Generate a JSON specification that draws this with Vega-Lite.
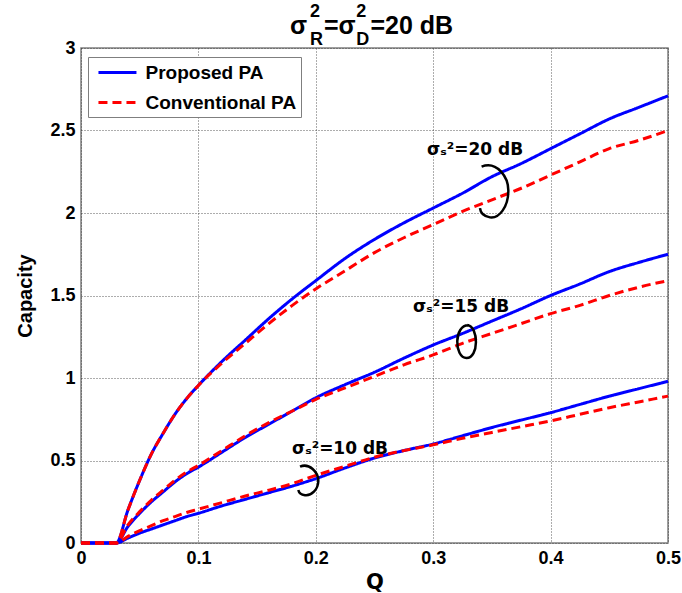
{
"$schema": "https://vega.github.io/schema/vega-lite/v6.json",
"width": 587, "height": 495,
"autosize": {"type": "none"},
"padding": {"left": 81, "top": 48, "right": 14, "bottom": 50},
"background": "white",
"config": {
 "view": {"stroke": "#7f7f7f", "strokeWidth": 1.5},
 "axis": {"labelFont": "Liberation Sans", "labelFontWeight": "bold", "labelFontSize": 18, "labelColor": "black", "titleFont": "Liberation Sans", "titleFontWeight": "bold", "titleColor": "black", "grid": true, "gridColor": "#333333", "gridDash": [1, 2], "gridWidth": 1, "gridOpacity": 0.8, "domain": false, "ticks": false, "labelPadding": 6, "labelFlush": false},
 "legend": {"title": null, "orient": "none", "legendX": 7, "legendY": 9, "strokeColor": "#7f7f7f", "fillColor": "white", "padding": 4.5, "rowPadding": 9, "labelFont": "Liberation Sans", "labelFontWeight": "bold", "labelFontSize": 19, "labelColor": "black", "symbolType": "M -0.53,0 L 3.47,0", "symbolSize": 361, "symbolStrokeWidth": 3, "labelOffset": 31, "labelLimit": 400}
},
"datasets": {
 "curves": [
  {"Q":0,"C":0,"s":"Proposed PA","snr":20},{"Q":0.03,"C":0,"s":"Proposed PA","snr":20},{"Q":0.04,"C":0.2,"s":"Proposed PA","snr":20},{"Q":0.05,"C":0.38,"s":"Proposed PA","snr":20},{"Q":0.06,"C":0.54,"s":"Proposed PA","snr":20},{"Q":0.07,"C":0.665,"s":"Proposed PA","snr":20},{"Q":0.08,"C":0.78,"s":"Proposed PA","snr":20},{"Q":0.09,"C":0.875,"s":"Proposed PA","snr":20},{"Q":0.1,"C":0.955,"s":"Proposed PA","snr":20},{"Q":0.12,"C":1.10,"s":"Proposed PA","snr":20},{"Q":0.14,"C":1.23,"s":"Proposed PA","snr":20},{"Q":0.16,"C":1.36,"s":"Proposed PA","snr":20},{"Q":0.18,"C":1.48,"s":"Proposed PA","snr":20},{"Q":0.2,"C":1.59,"s":"Proposed PA","snr":20},{"Q":0.225,"C":1.725,"s":"Proposed PA","snr":20},{"Q":0.25,"C":1.84,"s":"Proposed PA","snr":20},{"Q":0.275,"C":1.94,"s":"Proposed PA","snr":20},{"Q":0.3,"C":2.03,"s":"Proposed PA","snr":20},{"Q":0.325,"C":2.12,"s":"Proposed PA","snr":20},{"Q":0.35,"C":2.22,"s":"Proposed PA","snr":20},{"Q":0.375,"C":2.30,"s":"Proposed PA","snr":20},{"Q":0.4,"C":2.39,"s":"Proposed PA","snr":20},{"Q":0.425,"C":2.48,"s":"Proposed PA","snr":20},{"Q":0.45,"C":2.57,"s":"Proposed PA","snr":20},{"Q":0.475,"C":2.64,"s":"Proposed PA","snr":20},{"Q":0.5,"C":2.71,"s":"Proposed PA","snr":20},
  {"Q":0,"C":0,"s":"Conventional PA","snr":20},{"Q":0.03,"C":0,"s":"Conventional PA","snr":20},{"Q":0.04,"C":0.2,"s":"Conventional PA","snr":20},{"Q":0.05,"C":0.38,"s":"Conventional PA","snr":20},{"Q":0.06,"C":0.54,"s":"Conventional PA","snr":20},{"Q":0.07,"C":0.665,"s":"Conventional PA","snr":20},{"Q":0.08,"C":0.78,"s":"Conventional PA","snr":20},{"Q":0.09,"C":0.875,"s":"Conventional PA","snr":20},{"Q":0.1,"C":0.955,"s":"Conventional PA","snr":20},{"Q":0.12,"C":1.09,"s":"Conventional PA","snr":20},{"Q":0.14,"C":1.21,"s":"Conventional PA","snr":20},{"Q":0.16,"C":1.33,"s":"Conventional PA","snr":20},{"Q":0.18,"C":1.44,"s":"Conventional PA","snr":20},{"Q":0.2,"C":1.54,"s":"Conventional PA","snr":20},{"Q":0.225,"C":1.65,"s":"Conventional PA","snr":20},{"Q":0.25,"C":1.76,"s":"Conventional PA","snr":20},{"Q":0.275,"C":1.85,"s":"Conventional PA","snr":20},{"Q":0.3,"C":1.93,"s":"Conventional PA","snr":20},{"Q":0.325,"C":2.01,"s":"Conventional PA","snr":20},{"Q":0.35,"C":2.08,"s":"Conventional PA","snr":20},{"Q":0.375,"C":2.15,"s":"Conventional PA","snr":20},{"Q":0.4,"C":2.23,"s":"Conventional PA","snr":20},{"Q":0.425,"C":2.31,"s":"Conventional PA","snr":20},{"Q":0.45,"C":2.39,"s":"Conventional PA","snr":20},{"Q":0.475,"C":2.44,"s":"Conventional PA","snr":20},{"Q":0.5,"C":2.50,"s":"Conventional PA","snr":20},
  {"Q":0,"C":0,"s":"Proposed PA","snr":15},{"Q":0.03,"C":0,"s":"Proposed PA","snr":15},{"Q":0.04,"C":0.10,"s":"Proposed PA","snr":15},{"Q":0.05,"C":0.18,"s":"Proposed PA","snr":15},{"Q":0.06,"C":0.25,"s":"Proposed PA","snr":15},{"Q":0.07,"C":0.31,"s":"Proposed PA","snr":15},{"Q":0.08,"C":0.37,"s":"Proposed PA","snr":15},{"Q":0.09,"C":0.42,"s":"Proposed PA","snr":15},{"Q":0.1,"C":0.46,"s":"Proposed PA","snr":15},{"Q":0.12,"C":0.55,"s":"Proposed PA","snr":15},{"Q":0.14,"C":0.64,"s":"Proposed PA","snr":15},{"Q":0.16,"C":0.72,"s":"Proposed PA","snr":15},{"Q":0.18,"C":0.80,"s":"Proposed PA","snr":15},{"Q":0.2,"C":0.88,"s":"Proposed PA","snr":15},{"Q":0.225,"C":0.96,"s":"Proposed PA","snr":15},{"Q":0.25,"C":1.035,"s":"Proposed PA","snr":15},{"Q":0.275,"C":1.12,"s":"Proposed PA","snr":15},{"Q":0.3,"C":1.20,"s":"Proposed PA","snr":15},{"Q":0.325,"C":1.27,"s":"Proposed PA","snr":15},{"Q":0.35,"C":1.345,"s":"Proposed PA","snr":15},{"Q":0.375,"C":1.42,"s":"Proposed PA","snr":15},{"Q":0.4,"C":1.50,"s":"Proposed PA","snr":15},{"Q":0.425,"C":1.57,"s":"Proposed PA","snr":15},{"Q":0.45,"C":1.645,"s":"Proposed PA","snr":15},{"Q":0.475,"C":1.70,"s":"Proposed PA","snr":15},{"Q":0.5,"C":1.75,"s":"Proposed PA","snr":15},
  {"Q":0,"C":0,"s":"Conventional PA","snr":15},{"Q":0.03,"C":0,"s":"Conventional PA","snr":15},{"Q":0.04,"C":0.11,"s":"Conventional PA","snr":15},{"Q":0.05,"C":0.19,"s":"Conventional PA","snr":15},{"Q":0.06,"C":0.26,"s":"Conventional PA","snr":15},{"Q":0.07,"C":0.32,"s":"Conventional PA","snr":15},{"Q":0.08,"C":0.38,"s":"Conventional PA","snr":15},{"Q":0.09,"C":0.43,"s":"Conventional PA","snr":15},{"Q":0.1,"C":0.47,"s":"Conventional PA","snr":15},{"Q":0.12,"C":0.56,"s":"Conventional PA","snr":15},{"Q":0.14,"C":0.65,"s":"Conventional PA","snr":15},{"Q":0.16,"C":0.73,"s":"Conventional PA","snr":15},{"Q":0.18,"C":0.80,"s":"Conventional PA","snr":15},{"Q":0.2,"C":0.87,"s":"Conventional PA","snr":15},{"Q":0.225,"C":0.94,"s":"Conventional PA","snr":15},{"Q":0.25,"C":1.01,"s":"Conventional PA","snr":15},{"Q":0.275,"C":1.08,"s":"Conventional PA","snr":15},{"Q":0.3,"C":1.14,"s":"Conventional PA","snr":15},{"Q":0.325,"C":1.21,"s":"Conventional PA","snr":15},{"Q":0.35,"C":1.27,"s":"Conventional PA","snr":15},{"Q":0.375,"C":1.33,"s":"Conventional PA","snr":15},{"Q":0.4,"C":1.39,"s":"Conventional PA","snr":15},{"Q":0.425,"C":1.44,"s":"Conventional PA","snr":15},{"Q":0.45,"C":1.50,"s":"Conventional PA","snr":15},{"Q":0.475,"C":1.55,"s":"Conventional PA","snr":15},{"Q":0.5,"C":1.59,"s":"Conventional PA","snr":15},
  {"Q":0,"C":0,"s":"Proposed PA","snr":10},{"Q":0.03,"C":0,"s":"Proposed PA","snr":10},{"Q":0.04,"C":0.03,"s":"Proposed PA","snr":10},{"Q":0.05,"C":0.06,"s":"Proposed PA","snr":10},{"Q":0.06,"C":0.085,"s":"Proposed PA","snr":10},{"Q":0.07,"C":0.11,"s":"Proposed PA","snr":10},{"Q":0.08,"C":0.135,"s":"Proposed PA","snr":10},{"Q":0.09,"C":0.16,"s":"Proposed PA","snr":10},{"Q":0.1,"C":0.18,"s":"Proposed PA","snr":10},{"Q":0.12,"C":0.225,"s":"Proposed PA","snr":10},{"Q":0.14,"C":0.265,"s":"Proposed PA","snr":10},{"Q":0.16,"C":0.305,"s":"Proposed PA","snr":10},{"Q":0.18,"C":0.345,"s":"Proposed PA","snr":10},{"Q":0.2,"C":0.39,"s":"Proposed PA","snr":10},{"Q":0.225,"C":0.455,"s":"Proposed PA","snr":10},{"Q":0.25,"C":0.515,"s":"Proposed PA","snr":10},{"Q":0.275,"C":0.56,"s":"Proposed PA","snr":10},{"Q":0.3,"C":0.60,"s":"Proposed PA","snr":10},{"Q":0.325,"C":0.65,"s":"Proposed PA","snr":10},{"Q":0.35,"C":0.70,"s":"Proposed PA","snr":10},{"Q":0.375,"C":0.745,"s":"Proposed PA","snr":10},{"Q":0.4,"C":0.79,"s":"Proposed PA","snr":10},{"Q":0.425,"C":0.84,"s":"Proposed PA","snr":10},{"Q":0.45,"C":0.89,"s":"Proposed PA","snr":10},{"Q":0.475,"C":0.935,"s":"Proposed PA","snr":10},{"Q":0.5,"C":0.98,"s":"Proposed PA","snr":10},
  {"Q":0,"C":0,"s":"Conventional PA","snr":10},{"Q":0.03,"C":0,"s":"Conventional PA","snr":10},{"Q":0.04,"C":0.04,"s":"Conventional PA","snr":10},{"Q":0.05,"C":0.075,"s":"Conventional PA","snr":10},{"Q":0.06,"C":0.105,"s":"Conventional PA","snr":10},{"Q":0.07,"C":0.135,"s":"Conventional PA","snr":10},{"Q":0.08,"C":0.16,"s":"Conventional PA","snr":10},{"Q":0.09,"C":0.185,"s":"Conventional PA","snr":10},{"Q":0.1,"C":0.205,"s":"Conventional PA","snr":10},{"Q":0.12,"C":0.245,"s":"Conventional PA","snr":10},{"Q":0.14,"C":0.285,"s":"Conventional PA","snr":10},{"Q":0.16,"C":0.32,"s":"Conventional PA","snr":10},{"Q":0.18,"C":0.36,"s":"Conventional PA","snr":10},{"Q":0.2,"C":0.41,"s":"Conventional PA","snr":10},{"Q":0.225,"C":0.465,"s":"Conventional PA","snr":10},{"Q":0.25,"C":0.52,"s":"Conventional PA","snr":10},{"Q":0.275,"C":0.56,"s":"Conventional PA","snr":10},{"Q":0.3,"C":0.595,"s":"Conventional PA","snr":10},{"Q":0.325,"C":0.635,"s":"Conventional PA","snr":10},{"Q":0.35,"C":0.67,"s":"Conventional PA","snr":10},{"Q":0.375,"C":0.705,"s":"Conventional PA","snr":10},{"Q":0.4,"C":0.74,"s":"Conventional PA","snr":10},{"Q":0.425,"C":0.78,"s":"Conventional PA","snr":10},{"Q":0.45,"C":0.82,"s":"Conventional PA","snr":10},{"Q":0.475,"C":0.855,"s":"Conventional PA","snr":10},{"Q":0.5,"C":0.89,"s":"Conventional PA","snr":10}
 ],
 "title": [
  {"Q":0.1780,"C":3.083,"t":"σ","r":"main"},
  {"Q":0.1951,"C":3.185,"t":"2","r":"sup"},
  {"Q":0.1951,"C":3.018,"t":"R","r":"sub"},
  {"Q":0.2070,"C":3.083,"t":"=σ","r":"main"},
  {"Q":0.2345,"C":3.185,"t":"2","r":"sup"},
  {"Q":0.2345,"C":3.018,"t":"D","r":"sub"},
  {"Q":0.2465,"C":3.083,"t":"=20 dB","r":"main"}
 ],
 "notes": [
  {"Q":0.2947,"C":2.352,"t":"σₛ²=20  dB"},
  {"Q":0.2828,"C":1.402,"t":"σₛ²=15  dB"},
  {"Q":0.1797,"C":0.539,"t":"σₛ²=10  dB"}
 ],
 "loops": [
  {"Q":0.3518,"C":2.129,"snr":20},
  {"Q":0.3284,"C":1.221,"snr":15},
  {"Q":0.1929,"C":0.379,"snr":10}
 ]
},
"encoding": {
 "x": {"field": "Q", "type": "quantitative", "scale": {"domain": [0, 0.5], "nice": false, "zero": false}, "axis": {"values": [0, 0.1, 0.2, 0.3, 0.4, 0.5], "format": "~g", "title": "Q", "titleFont": "DejaVu Sans", "titleFontSize": 21, "titlePadding": 4}},
 "y": {"field": "C", "type": "quantitative", "scale": {"domain": [0, 3], "nice": false}, "axis": {"values": [0, 0.5, 1, 1.5, 2, 2.5, 3], "format": "~g", "title": "Capacity", "titleFontSize": 20, "titlePadding": 14}}
},
"layer": [
 {"data": {"name": "curves"}, "transform": [{"filter": "datum.s == 'Proposed PA'"}],
  "mark": {"type": "line", "strokeWidth": 3, "interpolate": "monotone"},
  "encoding": {
   "color": {"field": "s", "type": "nominal", "scale": {"domain": ["Proposed PA", "Conventional PA"], "range": ["#0000ff", "#ff0000"]}, "legend": {}},
   "strokeDash": {"field": "s", "type": "nominal", "scale": {"domain": ["Proposed PA", "Conventional PA"], "range": [[1, 0], [9, 5]]}, "legend": {}},
   "detail": {"field": "snr", "type": "nominal"}
  }},
 {"data": {"name": "curves"}, "transform": [{"filter": "datum.s == 'Conventional PA'"}],
  "mark": {"type": "line", "strokeWidth": 3, "interpolate": "monotone"},
  "encoding": {
   "color": {"field": "s", "type": "nominal", "scale": {"domain": ["Proposed PA", "Conventional PA"], "range": ["#0000ff", "#ff0000"]}, "legend": {}},
   "strokeDash": {"field": "s", "type": "nominal", "scale": {"domain": ["Proposed PA", "Conventional PA"], "range": [[1, 0], [9, 5]]}, "legend": {}},
   "detail": {"field": "snr", "type": "nominal"}
  }},
 {"data": {"name": "title"}, "transform": [{"filter": "datum.r == 'main'"}],
  "mark": {"type": "text", "align": "left", "baseline": "alphabetic", "font": "Liberation Sans", "fontWeight": "bold", "fontSize": 25, "color": "black"},
  "encoding": {"text": {"field": "t"}}},
 {"data": {"name": "title"}, "transform": [{"filter": "datum.r != 'main'"}],
  "mark": {"type": "text", "align": "left", "baseline": "alphabetic", "font": "Liberation Sans", "fontWeight": "bold", "fontSize": 18, "color": "black"},
  "encoding": {"text": {"field": "t"}}},
 {"data": {"name": "notes"},
  "mark": {"type": "text", "align": "left", "baseline": "alphabetic", "font": "DejaVu Sans", "fontWeight": "bold", "fontSize": 17, "color": "black"},
  "encoding": {"text": {"field": "t"}}},
 {"data": {"name": "loops"}, "transform": [{"filter": "datum.snr == 20"}],
  "mark": {"type": "point", "shape": "M -0.46,-0.93 C 0.1,-1.15 0.55,-0.55 0.53,0 C 0.52,0.55 0.2,1.0 -0.15,0.95 C -0.35,0.92 -0.5,0.8 -0.52,0.61", "size": 2916, "filled": false, "color": "black", "stroke": "black", "strokeWidth": 2.5, "opacity": 1}},
 {"data": {"name": "loops"}, "transform": [{"filter": "datum.snr == 15"}],
  "mark": {"type": "point", "shape": "M 0.15,-0.98 C -0.8,-1.05 -0.75,1 0,1 C 0.75,1 0.75,-0.9 0.05,-1", "size": 1089, "filled": false, "color": "black", "stroke": "black", "strokeWidth": 2.5, "opacity": 1}},
 {"data": {"name": "loops"}, "transform": [{"filter": "datum.snr == 10"}],
  "mark": {"type": "point", "shape": "M -0.48,-0.89 C 0.1,-1.15 0.72,-0.55 0.7,0.05 C 0.68,0.6 0.25,1.0 -0.16,0.95 C -0.4,0.92 -0.55,0.8 -0.59,0.61", "size": 961, "filled": false, "color": "black", "stroke": "black", "strokeWidth": 2.5, "opacity": 1}}
]
}
